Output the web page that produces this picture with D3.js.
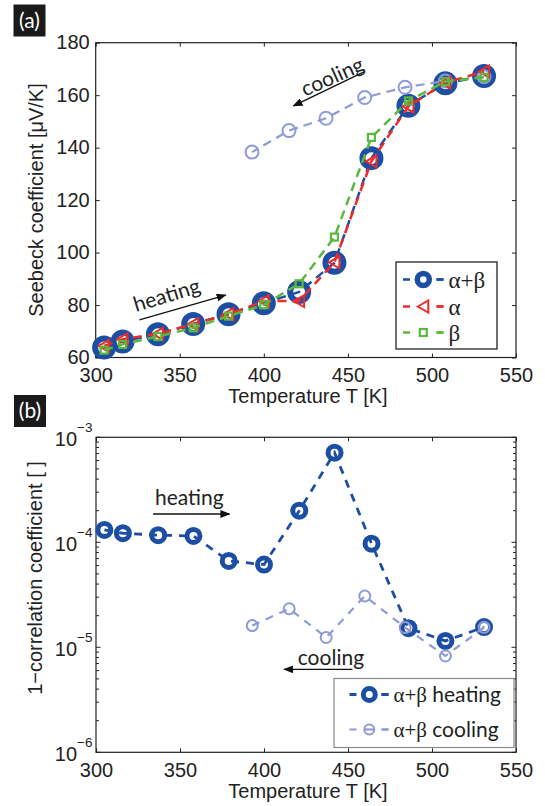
<!DOCTYPE html>
<html><head><meta charset="utf-8">
<script src="https://cdn.jsdelivr.net/npm/d3@7"></script>
<style>body{margin:0;background:#fff}</style>
</head><body><svg id="c" width="545" height="806"></svg>
<script>
// ---------- data ----------
const temps = [305,316,337,358,379,400,421,442,464,486,508,531];
const seebeckAB = [63.8,66.1,68.9,72.8,76.5,80.7,85,96.1,136,156,164.5,167.3];
const seebeckA  = [64.4,67,69,72.7,76.5,81.5,81.5,96.3,134.8,155.7,164.8,169];
const seebeckB  = [62.8,65,68,71.3,75.8,80.1,88.1,105.9,143.9,157.8,165.2,166.8];
const coolTemps = [531,508,484,460,437,415,393];
const seebeckCool = [167,165.4,163,159.1,151.2,146.5,138.3];
const corrHeat = [1.31e-4,1.22e-4,1.17e-4,1.15e-4,6.64e-5,6.14e-5,2.0e-4,7.14e-4,9.7e-5,1.52e-5,1.15e-5,1.56e-5];
const corrCool = [1.55e-5,8.26e-6,1.54e-5,3.08e-5,1.24e-5,2.33e-5,1.61e-5];
const xTicks = [300,350,400,450,500,550];
const yTicksA = [60,80,100,120,140,160,180];
const yTicksB = [1e-3,1e-4,1e-5,1e-6];
const yTickExpB = ["\u22123","\u22124","\u22125","\u22126"];
const legendA = ["\u03b1+\u03b2","\u03b1","\u03b2"];
const legendB = ["heating","cooling"];

// ---------- style ----------
const C_HEAT = "#1c4fa3", C_RED = "#ee2b2b", C_GREEN = "#5cb83c", C_COOL = "#8f9ad6";
const SANS = "'Liberation Sans', Arial, sans-serif";
const SERIF = "'Liberation Serif', 'DejaVu Serif', serif";
const HUM = "Lato, 'Open Sans', sans-serif";

const svg = d3.select("#c");
svg.append("rect").attr("width",545).attr("height",806).attr("fill","#fff");
const defs = svg.append("defs");
defs.append("marker").attr("id","ah").attr("viewBox","0 0 10 8").attr("refX",9).attr("refY",4)
  .attr("markerWidth",10).attr("markerHeight",8).attr("markerUnits","userSpaceOnUse").attr("orient","auto")
  .append("path").attr("d","M0,0 L10,4 L0,8 Z").attr("fill","#111");

// ---------- scales ----------
const xA = d3.scaleLinear().domain([300,550]).range([95.7,516]);
const yA = d3.scaleLinear().domain([60,180]).range([357.5,42.7]);
const xB = d3.scaleLinear().domain([300,550]).range([96,516]);
const yB = d3.scaleLog().domain([1e-6,1e-3]).range([752.3,437.3]);

function panelLabel(txt, x, y){
  svg.append("rect").attr("x",x).attr("y",y).attr("width",32).attr("height",32).attr("fill","#1a1a1a");
  svg.append("text").attr("x",x+16).attr("y",y+23).attr("text-anchor","middle")
    .attr("font-family",HUM).attr("font-size",21).attr("fill","#fff").text(txt);
}

function frame(g, x, y){
  const [x0,x1] = x.range(), [y0,y1] = y.range();
  g.append("g").attr("transform",`translate(0,${y0})`)
    .call(d3.axisBottom(x).tickValues(xTicks).tickSize(-4).tickSizeOuter(0).tickFormat(d3.format("d")))
    .call(s=>{s.select(".domain").remove();
      s.selectAll("line").attr("stroke","#222");
      s.selectAll("text").attr("y",24.5).attr("dy",0).attr("font-family",SANS).attr("font-size",20).attr("fill","#222");});
  g.append("g").attr("transform",`translate(0,${y1})`)
    .call(d3.axisTop(x).tickValues(xTicks).tickSize(-4).tickSizeOuter(0).tickFormat(""))
    .call(s=>{s.select(".domain").remove(); s.selectAll("line").attr("stroke","#222");});
}

// ================= Panel (a) =================
panelLabel("(a)",13.5,4.5);
const gA = svg.append("g");
frame(gA, xA, yA);
gA.append("g").attr("transform",`translate(${xA.range()[0]},0)`)
  .call(d3.axisLeft(yA).tickValues(yTicksA).tickSize(-4).tickSizeOuter(0).tickFormat(d3.format("d")))
  .call(s=>{s.select(".domain").remove(); s.selectAll("line").attr("stroke","#222");
    s.selectAll("text").attr("x",-6).attr("dy","0.3em").attr("font-family",SANS).attr("font-size",20).attr("fill","#222");});
gA.append("g").attr("transform",`translate(${xA.range()[1]},0)`)
  .call(d3.axisRight(yA).tickValues(yTicksA).tickSize(-4).tickSizeOuter(0).tickFormat(""))
  .call(s=>{s.select(".domain").remove(); s.selectAll("line").attr("stroke","#222");});
gA.append("rect").attr("x",xA.range()[0]).attr("y",yA.range()[1])
  .attr("width",xA.range()[1]-xA.range()[0]).attr("height",yA.range()[0]-yA.range()[1])
  .attr("fill","none").attr("stroke","#222").attr("stroke-width",1.2);

svg.append("text").attr("transform","translate(43,200) rotate(-90)").attr("text-anchor","middle")
  .attr("font-family",SANS).attr("font-size",20).attr("fill","#222").text("Seebeck coefficient [\u03bcV/K]");
svg.append("text").attr("x",308).attr("y",403).attr("text-anchor","middle")
  .attr("font-family",SANS).attr("font-size",20).attr("fill","#222").text("Temperature T [K]");

const lineA = d3.line().x(d=>xA(d[0])).y(d=>yA(d[1]));
const zip = (a,b)=>a.map((v,i)=>[v,b[i]]);
const triPath = "M-5.5,0 L5,-6 L5,6 Z";

function circles(g, data, x, y, r, col, sw){
  g.selectAll(null).data(data).enter().append("circle")
   .attr("cx",d=>x(d[0])).attr("cy",d=>y(d[1])).attr("r",r)
   .attr("fill","none").attr("stroke",col).attr("stroke-width",sw);
}

const dAB = zip(temps,seebeckAB);
gA.append("path").attr("d",lineA(dAB)).attr("fill","none").attr("stroke",C_HEAT).attr("stroke-width",2.5).attr("stroke-dasharray","9,6");
circles(gA, dAB, xA, yA, 9, C_HEAT, 6);
const dC = zip(coolTemps,seebeckCool);
gA.append("path").attr("d",lineA(dC)).attr("fill","none").attr("stroke",C_COOL).attr("stroke-width",2.2).attr("stroke-dasharray","9,6");
circles(gA, dC, xA, yA, 6.5, C_COOL, 2);
const dA = zip(temps,seebeckA);
gA.append("path").attr("d",lineA(dA)).attr("fill","none").attr("stroke",C_RED).attr("stroke-width",2.5).attr("stroke-dasharray","9,6");
gA.selectAll(null).data(dA).enter().append("path").attr("d",triPath)
  .attr("transform",d=>`translate(${xA(d[0])},${yA(d[1])})`)
  .attr("fill","none").attr("stroke",C_RED).attr("stroke-width",2);
const dB = zip(temps,seebeckB);
gA.append("path").attr("d",lineA(dB)).attr("fill","none").attr("stroke",C_GREEN).attr("stroke-width",2.5).attr("stroke-dasharray","9,6");
gA.selectAll(null).data(dB).enter().append("rect")
  .attr("x",d=>xA(d[0])-3.5).attr("y",d=>yA(d[1])-3.5).attr("width",7).attr("height",7)
  .attr("fill","none").attr("stroke",C_GREEN).attr("stroke-width",2.2);

function arrow(g, x, y, p0, p1){
  g.append("line").attr("x1",x(p0[0])).attr("y1",y(p0[1])).attr("x2",x(p1[0])).attr("y2",y(p1[1]))
   .attr("stroke","#111").attr("stroke-width",1.3).attr("marker-end","url(#ah)");
}
function note(g, x, y, p, ang, txt){
  g.append("text").attr("transform",`translate(${x(p[0])},${y(p[1])}) rotate(${ang})`)
   .attr("font-family",HUM).attr("font-size",21).attr("fill","#222").text(txt);
}
arrow(gA, xA, yA, [326,74.3],[377.3,83.8]);
note(gA, xA, yA, [324,77.3], -17, "heating");
arrow(gA, xA, yA, [459.6,168.9],[417.6,155.9]);
note(gA, xA, yA, [424.5,159.4], -24, "cooling");

const lgA = svg.append("g");
lgA.append("rect").attr("x",396).attr("y",262).attr("width",101).attr("height",87)
  .attr("fill","#fff").attr("stroke","#111").attr("stroke-width",1.2);
const legRowsA = [{c:C_HEAT,y:279.5},{c:C_RED,y:306.5},{c:C_GREEN,y:332.5}];
legRowsA.forEach((r,i)=>{
  lgA.append("line").attr("x1",403).attr("x2",443.5).attr("y1",r.y).attr("y2",r.y)
    .attr("stroke",r.c).attr("stroke-width",2.5).attr("stroke-dasharray","7,26.5");
  lgA.append("line").attr("x1",443.5).attr("x2",436.5).attr("y1",r.y).attr("y2",r.y)
    .attr("stroke",r.c).attr("stroke-width",2.5);
  if(i===0) lgA.append("circle").attr("cx",423.3).attr("cy",r.y).attr("r",6).attr("fill","none").attr("stroke",r.c).attr("stroke-width",5.5);
  if(i===1) lgA.append("path").attr("d",triPath).attr("transform",`translate(423.3,${r.y})`).attr("fill","none").attr("stroke",r.c).attr("stroke-width",2);
  if(i===2) lgA.append("rect").attr("x",419.8).attr("y",r.y-3.5).attr("width",7).attr("height",7).attr("fill","none").attr("stroke",r.c).attr("stroke-width",2.2);
  lgA.append("text").attr("x",448.5).attr("y",r.y).attr("dy","0.35em")
    .attr("font-family",SERIF).attr("font-size",23).attr("fill","#222").text(legendA[i]);
});

// ================= Panel (b) =================
panelLabel("(b)",14,395);
const gB = svg.append("g");
frame(gB, xB, yB);
const minorB = [];
for(let e=-6;e<-3;e++) for(let m=2;m<=9;m++) minorB.push(m*Math.pow(10,e));
[[xB.range()[0],1],[xB.range()[1],-1]].forEach(([x0,dir])=>{
  gB.selectAll(null).data(minorB).enter().append("line")
    .attr("x1",x0).attr("x2",x0+dir*3).attr("y1",d=>yB(d)).attr("y2",d=>yB(d)).attr("stroke","#222");
  gB.selectAll(null).data(yTicksB).enter().append("line")
    .attr("x1",x0).attr("x2",x0+dir*4.5).attr("y1",d=>yB(d)).attr("y2",d=>yB(d)).attr("stroke","#222");
});
yTicksB.forEach((v,i)=>{
  const t = gB.append("text").attr("x",92.5).attr("y",yB(v)+8.5).attr("text-anchor","end")
    .attr("font-family",SANS).attr("font-size",20).attr("fill","#222");
  t.append("tspan").text("10");
  t.append("tspan").attr("dy",-14).attr("font-size",13.5).text(yTickExpB[i]);
});
gB.append("rect").attr("x",xB.range()[0]).attr("y",yB.range()[1])
  .attr("width",xB.range()[1]-xB.range()[0]).attr("height",yB.range()[0]-yB.range()[1])
  .attr("fill","none").attr("stroke","#222").attr("stroke-width",1.2);

svg.append("text").attr("transform","translate(42,578) rotate(-90)").attr("text-anchor","middle")
  .attr("font-family",SANS).attr("font-size",20).attr("fill","#222").text("1\u2212correlation coefficient [ ]");
svg.append("text").attr("x",308).attr("y",798).attr("text-anchor","middle")
  .attr("font-family",SANS).attr("font-size",20).attr("fill","#222").text("Temperature T [K]");

const lineB = d3.line().x(d=>xB(d[0])).y(d=>yB(d[1]));
const dHB = zip(temps,corrHeat);
gB.append("path").attr("d",lineB(dHB)).attr("fill","none").attr("stroke",C_HEAT).attr("stroke-width",2.8).attr("stroke-dasharray","8,7");
circles(gB, dHB, xB, yB, 6.5, C_HEAT, 5);
const dCB = zip(coolTemps,corrCool);
gB.append("path").attr("d",lineB(dCB)).attr("fill","none").attr("stroke",C_COOL).attr("stroke-width",2.2).attr("stroke-dasharray","8,7");
circles(gB, dCB, xB, yB, 5.5, C_COOL, 2);

arrow(gB, xB, yB, [334,1.86e-4],[379.4,1.86e-4]);
note(gB, xB, yB, [335.1,2.27e-4], 0, "heating");
arrow(gB, xB, yB, [452.6,6.17e-6],[412,6.17e-6]);
note(gB, xB, yB, [420.1,6.78e-6], 0, "cooling");

const lgB = svg.append("g");
lgB.append("rect").attr("x",334).attr("y",678.5).attr("width",180).attr("height",69)
  .attr("fill","#fff").attr("stroke","#8a8a8a").attr("stroke-width",1.2);
const legRowsB = [{c:C_HEAT,y:694.5,r:6,sw:5,lw:2.8},{c:C_COOL,y:729.5,r:5,sw:2,lw:2.2}];
legRowsB.forEach((r,i)=>{
  lgB.append("line").attr("x1",349.5).attr("x2",388.5).attr("y1",r.y).attr("y2",r.y)
    .attr("stroke",r.c).attr("stroke-width",r.lw).attr("stroke-dasharray","7,25");
  lgB.append("line").attr("x1",388.5).attr("x2",381.5).attr("y1",r.y).attr("y2",r.y)
    .attr("stroke",r.c).attr("stroke-width",r.lw);
  if(i===1) lgB.append("line").attr("x1",364).attr("x2",375).attr("y1",r.y).attr("y2",r.y).attr("stroke",r.c).attr("stroke-width",r.lw);
  lgB.append("circle").attr("cx",369.3).attr("cy",r.y).attr("r",r.r).attr("fill","none").attr("stroke",r.c).attr("stroke-width",r.sw);
  const t = lgB.append("text").attr("x",393.5).attr("y",r.y).attr("dy","0.35em").attr("font-size",21).attr("fill","#222");
  t.append("tspan").attr("font-family",SERIF).text("\u03b1+\u03b2 ");
  t.append("tspan").attr("font-family",HUM).text(legendB[i]);
});
</script></body></html>
